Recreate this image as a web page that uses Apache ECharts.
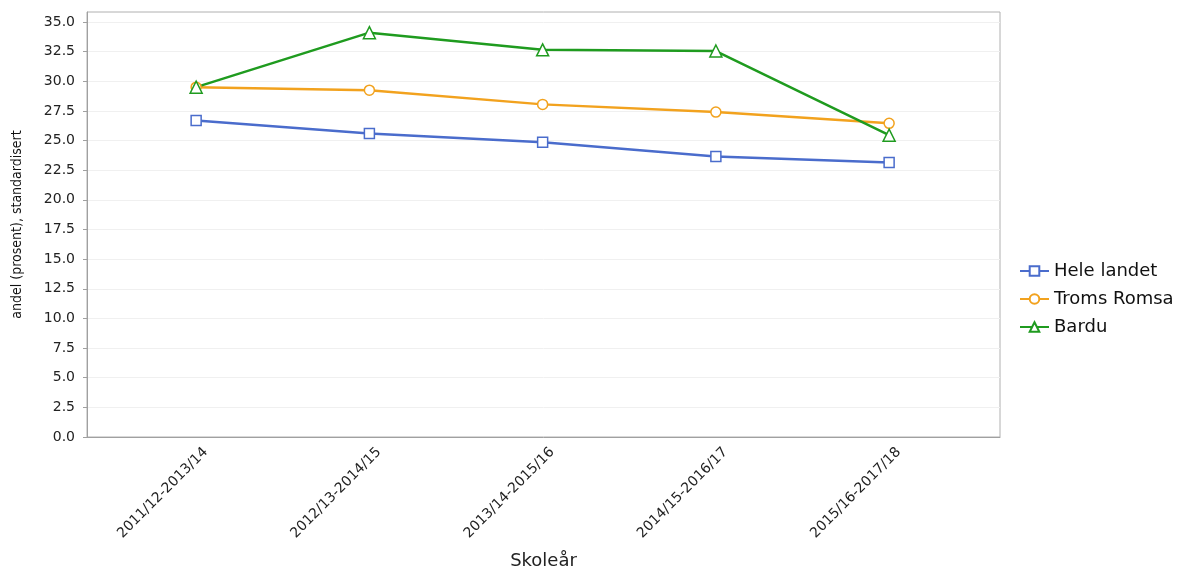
<!DOCTYPE html>
<html>
<head>
<meta charset="utf-8">
<script src="https://cdn.jsdelivr.net/npm/echarts@6/dist/echarts.min.js"></script>
<style>html,body{margin:0;padding:0;background:#fff}#c{width:1192px;height:569px}</style>
</head>
<body>
<div id="c"></div>
<script>
var categories = ['2011/12-2013/14', '2012/13-2014/15', '2013/14-2015/16', '2014/15-2016/17', '2015/16-2017/18'];
var seriesNames = ['Hele landet', 'Troms Romsa', 'Bardu'];
var heleLandet = [26.7, 25.6, 24.85, 23.65, 23.15];
var tromsRomsa = [29.5, 29.25, 28.05, 27.4, 26.45];
var bardu = [29.5, 34.1, 32.65, 32.55, 25.45];
var yTicks = [0, 2.5, 5, 7.5, 10, 12.5, 15, 17.5, 20, 22.5, 25, 27.5, 30, 32.5, 35];
var xTicks = [0, 1, 2, 3, 4];

var colors = ['#4a6ccc', '#f2a21e', '#1f9b1f'];
var symbols = ['rect', 'circle', 'triangle'];
var symbolSizes = [10, 10, 12];
var values = [heleLandet, tromsRomsa, bardu];

function toPoints(arr) { return arr.map(function (v, i) { return [i, v]; }); }

var chart = echarts.init(document.getElementById('c'), null, {renderer: 'canvas'});
var font = 'DejaVu Sans, Liberation Sans, sans-serif';
chart.setOption({
  animation: false,
  color: colors,
  textStyle: {fontFamily: font},
  grid: {left: 87, top: 12, width: 913, bottom: 132, show: true, borderColor: '#b0b0b0', borderWidth: 1,
         containLabel: false, outerBoundsMode: 'none'},
  legend: {
    orient: 'vertical', left: 1014, top: 257, itemWidth: 29, itemHeight: 12, itemGap: 10,
    data: seriesNames,
    textStyle: {fontSize: 18, color: '#111', fontFamily: font}
  },
  xAxis: {
    type: 'value', min: -0.63, max: 4.64,
    name: 'Skoleår', nameLocation: 'middle', nameGap: 115,
    nameTextStyle: {fontSize: 18, color: '#222', fontFamily: font},
    axisLine: {show: true, onZero: false, lineStyle: {color: '#a0a0a0'}},
    axisTick: {show: false},
    splitLine: {show: false},
    axisLabel: {
      customValues: xTicks.map(function (t) { return t + 0.055; }), rotate: 45, margin: 13, fontSize: 14, color: '#222',
      formatter: function (v) { return categories[Math.round(v)] || ''; }
    }
  },
  yAxis: {
    type: 'value', min: 0, max: 35.84,
    name: 'andel (prosent), standardisert', nameLocation: 'middle', nameGap: 63, nameRotate: 90,
    nameTextStyle: {fontSize: 14, color: '#111', fontFamily: 'DejaVu Sans Condensed, Liberation Sans, sans-serif'},
    axisLine: {show: true, onZero: false, lineStyle: {color: '#a0a0a0'}},
    axisTick: {show: true, length: 4, customValues: yTicks, lineStyle: {color: '#a0a0a0'}},
    axisLabel: {customValues: yTicks, margin: 12, fontSize: 14, color: '#222', formatter: function (v) { return v.toFixed(1); }},
    splitLine: {show: true, lineStyle: {color: '#f0f0f0', width: 1}}
  },
  series: seriesNames.map(function (n, k) {
    return {
      name: n, type: 'line', data: toPoints(values[k]),
      symbol: symbols[k], symbolSize: symbolSizes[k], showAllSymbol: true,
      lineStyle: {width: 2.5, color: colors[k]},
      itemStyle: {color: '#fff', borderColor: colors[k], borderWidth: 1.5},
      emphasis: {disabled: true}
    };
  })
});
</script>
</body>
</html>
